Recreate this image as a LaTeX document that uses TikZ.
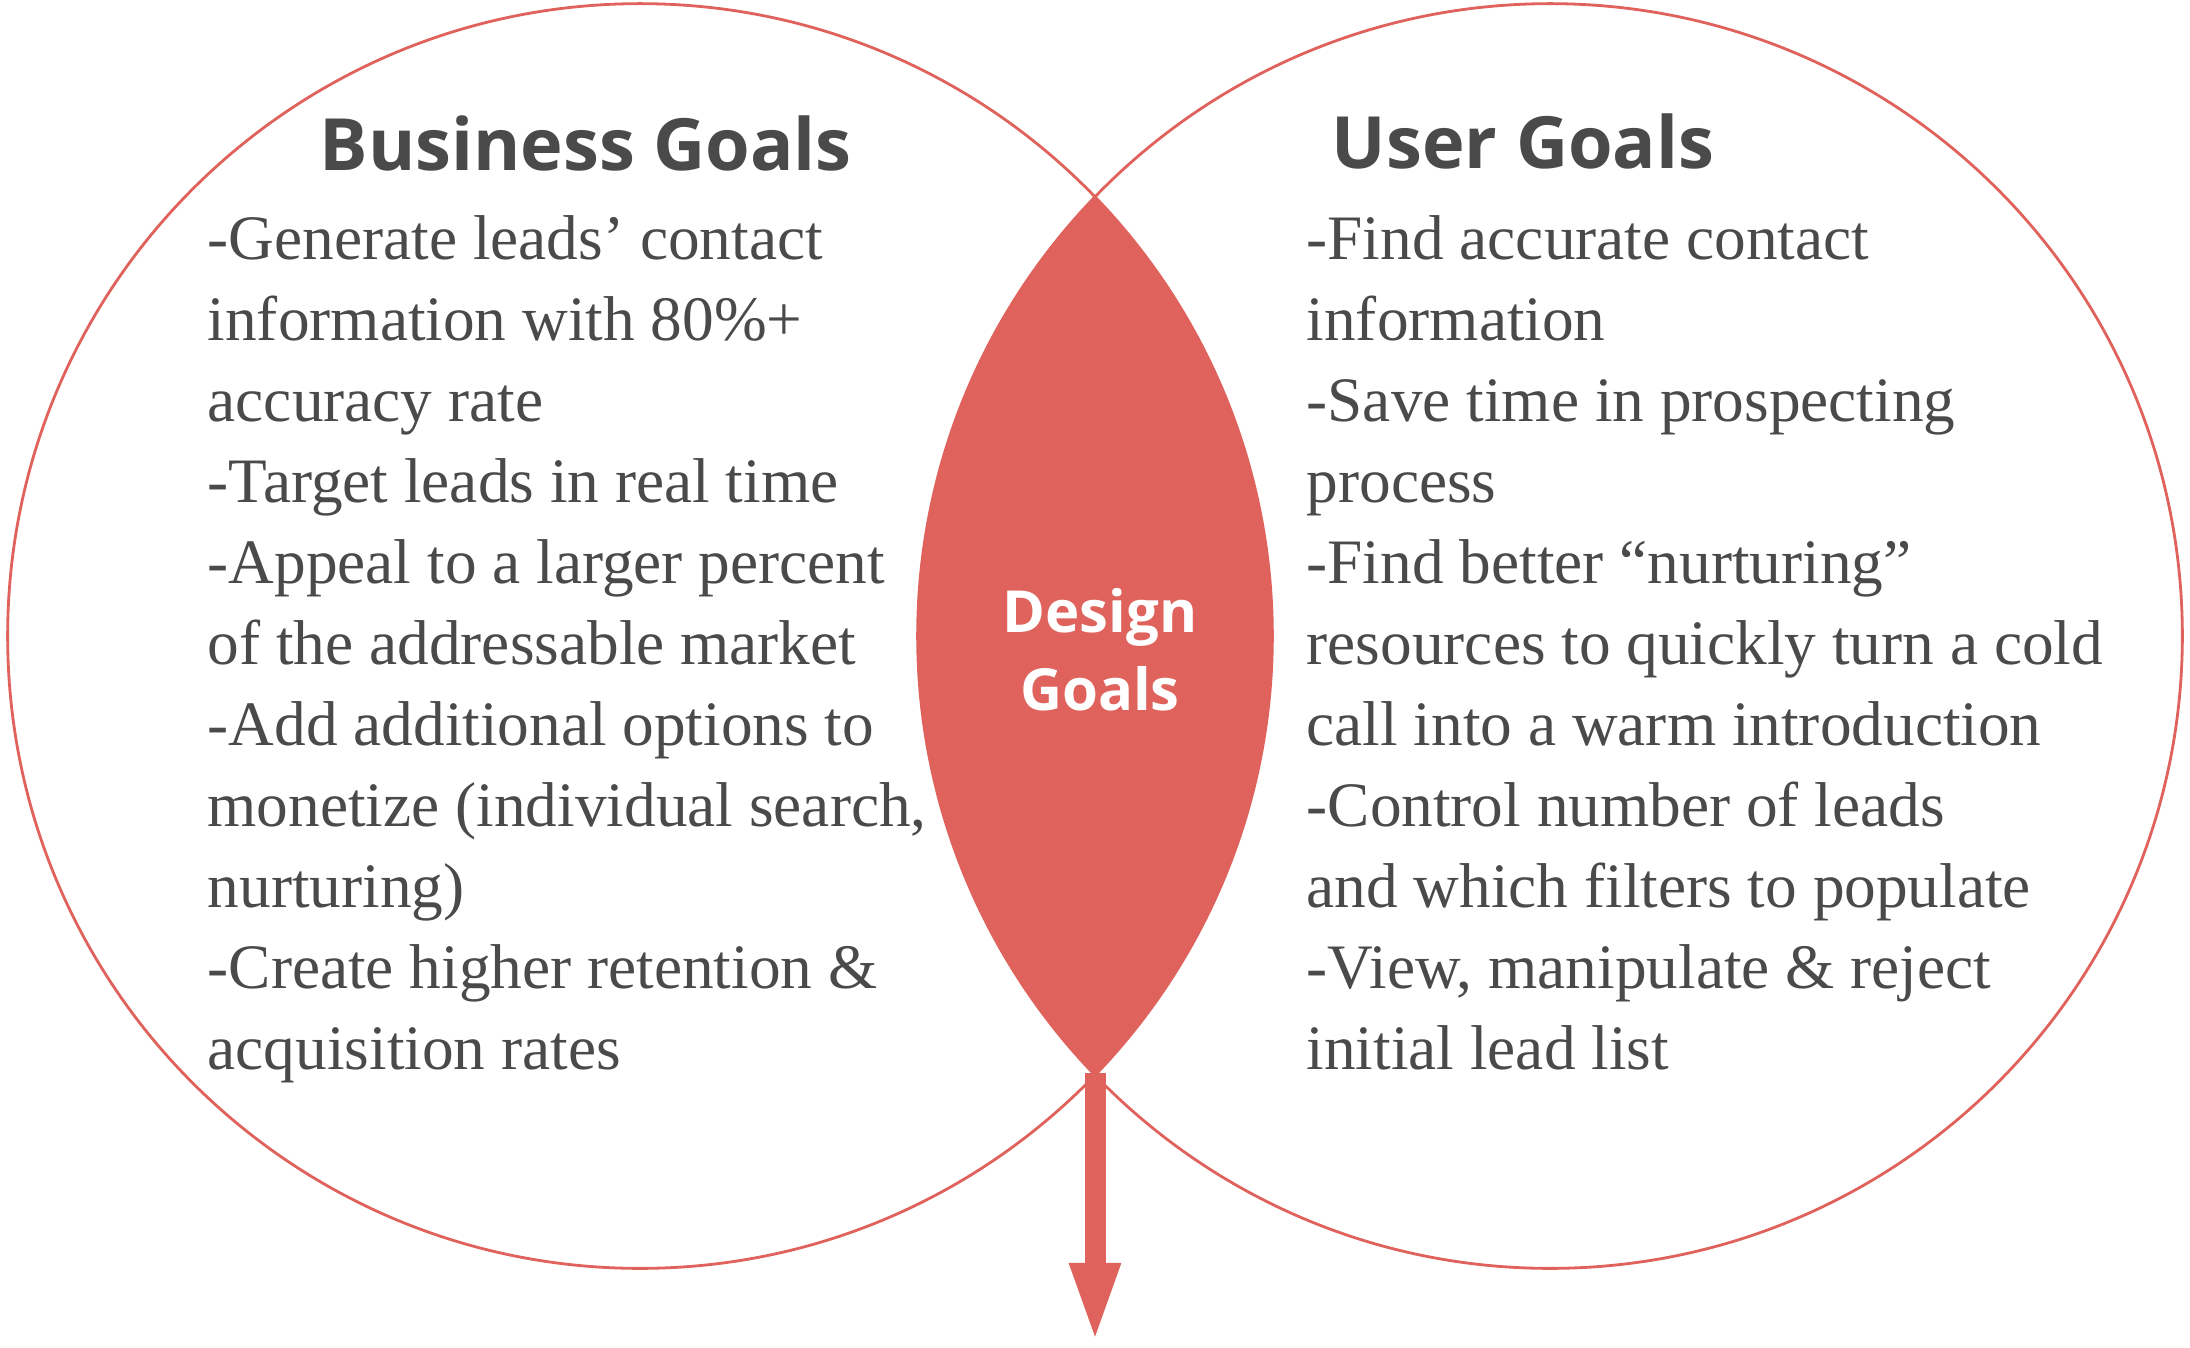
\documentclass[tikz,border=0pt]{standalone}
\usepackage{fontspec}
\setmainfont{Liberation Serif}
\newfontfamily\headfont{Open Sans}
\usepackage{tikz}
\usetikzlibrary{arrows.meta}
\definecolor{venn}{HTML}{DF635C}
\definecolor{ink}{HTML}{4A4A4A}
\tikzset{ring/.style = {circle,draw=venn,line width=0.8pt,minimum size=12.64cm,inner sep=0pt},
         heading/.style = {anchor=base west,inner sep=0pt,text=ink,font=\headfont\bfseries\fontsize{20.5}{25}\selectfont},
         goal/.style = {anchor=base west,inner sep=0pt,text=ink,font=\fontsize{18}{23}\selectfont},
         lenslabel/.style = {anchor=base,inner sep=0pt,text=white,font=\headfont\bfseries\fontsize{16.5}{20}\selectfont}}
\begin{document}
\begin{tikzpicture}[x=0.01cm,y=-0.01cm]
                    \useasboundingbox (0,0) rectangle (2190,1347);
                    \node[ring] (bizring) at (640,636) {};
                    \node[ring] (userring) at (1550,636) {};
                    \begin{scope}
                        \clip (bizring.center) circle (6.32cm);
                        \fill[venn] (userring.center) circle (6.32cm);
                    \end{scope}
                    \coordinate (lensbot) at (1095,1073);
                    \coordinate (tip) at (1095,1345);
                    \draw[venn,line width=0.21cm,-{Triangle[length=0.82cm,width=0.45cm]}] (lensbot) -- (tip);
                    \node[heading] (bizhead) at (319,170) {Business Goals};
                    \node[heading] (userhead) at (1331,168) {User Goals};
                    \node[lenslabel] (design) at (1100,632) {Design};
                    \node[lenslabel] (goals) at (1100,710) {Goals};
                    \foreach \t [count=\i] in {-Generate leads’ contact, information with 80\%+, accuracy rate,
                        -Target leads in real time, -Appeal to a larger percent, of the addressable market,
                        -Add additional options to, {monetize (individual search,}, nurturing),
                        -Create higher retention \&, acquisition rates}
                        \node[goal] (bizline\i) at (207,{259+81*(\i-1)}) {\t};
                    \foreach \t [count=\i] in {-Find accurate contact, information, -Save time in prospecting,
                        process, -Find better “nurturing”, resources to quickly turn a cold,
                        call into a warm introduction, -Control number of leads,
                        and which filters to populate, {-View, manipulate \& reject}, initial lead list}
                        \node[goal] (userline\i) at (1306,{259+81*(\i-1)}) {\t};
                \end{tikzpicture}
\end{document}
